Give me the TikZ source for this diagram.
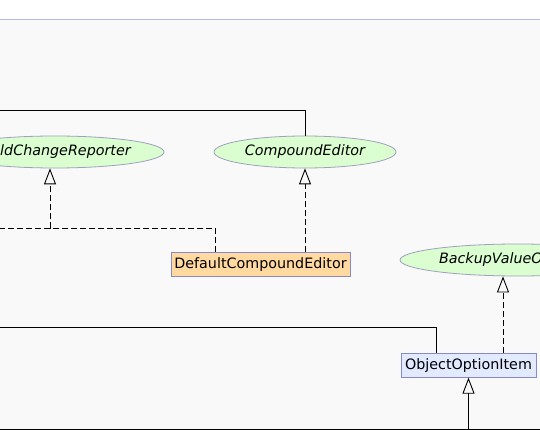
\documentclass[tikz,border=0pt]{standalone}
\usepackage{fontspec}
\setmainfont{DejaVu Sans}
\usetikzlibrary{arrows.meta}
\usetikzlibrary{shapes.geometric, positioning}

\definecolor{ifacefill}{RGB}{218,254,208}
\definecolor{ifaceline}{RGB}{160,160,190}
\definecolor{implfill}{RGB}{255,217,160}
\definecolor{classfill}{RGB}{226,234,255}
\definecolor{classline}{RGB}{136,136,204}
\definecolor{canvas}{RGB}{249,249,249}
\definecolor{topline}{RGB}{184,184,240}

\begin{document}
\begin{tikzpicture}[x=1pt, y=-1pt,
  iface/.style={ellipse, draw=ifaceline, fill=ifacefill, line width=0.8pt, inner sep=0pt,
    minimum height=32pt, font=\fontsize{14.3}{16}\selectfont\itshape},
  cls/.style={rectangle, draw=classline, line width=0.8pt, inner sep=0pt,
    minimum height=24pt, font=\fontsize{14.3}{16}\selectfont},
  link/.style={line width=0.9pt, black},
  realize/.style={link, dash pattern=on 6pt off 3pt},
  hollow/.style={-{Triangle[open, length=16pt, width=12pt]}}]
\def\W{540}
\def\H{430}
\useasboundingbox (0,0) rectangle (\W,\H);
\clip (0,0) rectangle (\W,\H);

\fill[white] (0,0) rectangle (\W,20);
\fill[canvas] (0,20) rectangle (\W,\H);
\draw[topline, line width=1pt] (0,19.5) -- (\W,19.5);

% interfaces
\node[iface, minimum width=218pt] (reporter) at (55,152) {FieldChangeReporter};
\node[iface, minimum width=182pt] (compound) at (305,152) {CompoundEditor};
\node[iface, minimum width=236pt] (observer) at (518,260) {BackupValueObserver};

% classes
\node[cls, fill=implfill, minimum width=179pt] (defeditor) at (260.5,264.75) {DefaultCompoundEditor};
\node[cls, fill=classfill, minimum width=135pt] (optitem) at (468.5,365.25) {ObjectOptionItem};

\coordinate (jr) at (50,228);
\coordinate (colA) at (215,228);
\coordinate (colB) at (436,327.5);
\coordinate (colC) at (503,300);
\coordinate (offTop) at (-10,110);
\coordinate (offJr) at (-10,228);
\coordinate (offMid) at (-10,327.5);
\coordinate (busL) at (-10,429.5);
\coordinate (busR) at (550,429.5);
\coordinate (subA) at (119.5,429.5);
\coordinate (subB) at (289,429.5);

\draw[link] (compound) |- (offTop);
\draw[realize, hollow] (defeditor.north -| compound) -- (compound);
\draw[realize, hollow] (defeditor.north -| colA) |- (jr) -- (reporter.south -| jr);
\draw[realize] (jr) -- (offJr);

\draw[link] (optitem.north -| colB) |- (offMid);
\draw[realize, hollow] (optitem.north -| colC) -- (observer.south -| colC);

\draw[link] (busL) -- (busR);
\draw[link] (subA) -- ++(0,10);
\draw[link] (subB) -- ++(0,10);
\draw[link, hollow] (optitem.south |- busL) ++(0,10) -- (optitem.south);
\end{tikzpicture}
\end{document}
